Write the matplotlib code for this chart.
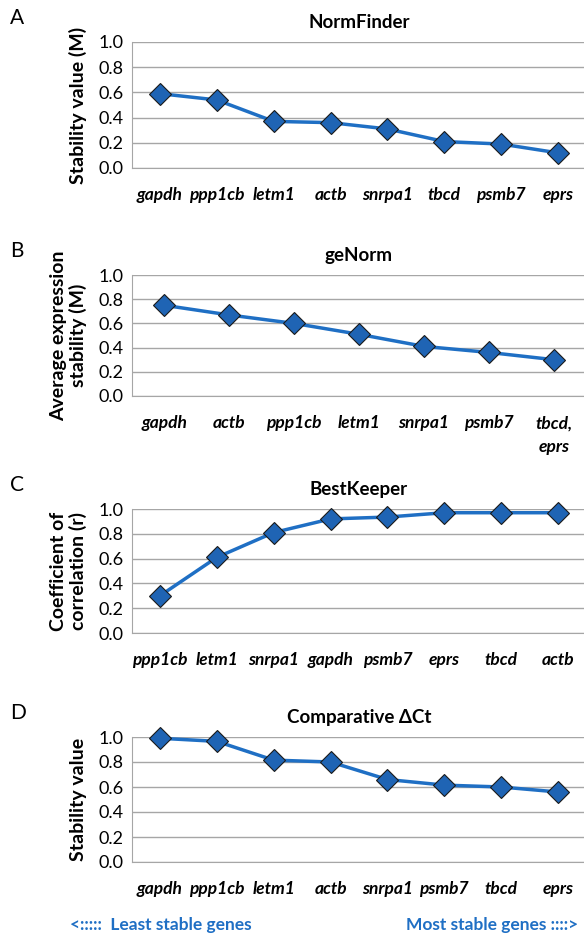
import matplotlib
matplotlib.use("Agg")
import matplotlib.pyplot as plt

plt.rcParams['font.family'] = ['Lato', 'DejaVu Sans']

# データ
genes_a = ["gapdh", "ppp1cb", "letm1", "actb", "snrpa1", "tbcd", "psmb7", "eprs"]
vals_a = [0.59, 0.54, 0.37, 0.36, 0.31, 0.21, 0.19, 0.12]

genes_b = ["gapdh", "actb", "ppp1cb", "letm1", "snrpa1", "psmb7", "tbcd,\neprs"]
vals_b = [0.75, 0.67, 0.60, 0.51, 0.41, 0.36, 0.30]

genes_c = ["ppp1cb", "letm1", "snrpa1", "gapdh", "psmb7", "eprs", "tbcd", "actb"]
vals_c = [0.30, 0.61, 0.81, 0.92, 0.935, 0.97, 0.97, 0.97]

genes_d = ["gapdh", "ppp1cb", "letm1", "actb", "snrpa1", "psmb7", "tbcd", "eprs"]
vals_d = [0.99, 0.965, 0.815, 0.80, 0.66, 0.615, 0.60, 0.56]

titles = ["NormFinder", "geNorm", "BestKeeper", "Comparative ΔCt"]
ylabels = ["Stability value (M)", "Average expression\nstability (M)",
           "Coefficient of\ncorrelation (r)", "Stability value"]
letters = ["A", "B", "C", "D"]
yticks = [0.0, 0.2, 0.4, 0.6, 0.8, 1.0]

line_col = "#1f6fc4"
mark_col = "#1f64b4"
grid_col = "#a6a6a6"

fig = plt.figure(figsize=(5.84, 9.34), dpi=100)

# 各パネルの位置 (top, bottom) in px
rows = [(42, 168), (275, 396), (509, 633), (737, 862)]
panels = [(genes_a, vals_a), (genes_b, vals_b), (genes_c, vals_c), (genes_d, vals_d)]

for k, ((genes, vals), (top, bot)) in enumerate(zip(panels, rows)):
    ax = fig.add_axes([131.5 / 584, 1 - bot / 934, 455 / 584, (bot - top) / 934])
    x = list(range(len(genes)))
    ax.plot(x, vals, color=line_col, lw=2.5, marker="D", ms=11,
            mfc=mark_col, mec="#1a1a1a", mew=0.8, zorder=3, clip_on=False)
    ax.set_xlim(-0.5, len(genes) - 0.5)
    ax.set_ylim(0, 1.0)
    ax.set_yticks(yticks)
    ax.set_yticklabels(["%.1f" % v for v in yticks], fontsize=13)
    ax.yaxis.grid(True, color=grid_col, lw=1)
    ax.set_axisbelow(True)
    ax.set_xticks(x)
    ax.set_xticklabels(genes, fontsize=12.5, fontweight="bold", style="italic",
                       va="top", linespacing=1.6)
    ax.tick_params(axis="both", length=0)
    ax.tick_params(axis="x", pad=14)
    ax.tick_params(axis="y", pad=6)
    for s in ["top", "right"]:
        ax.spines[s].set_visible(False)
    for s in ["left", "bottom"]:
        ax.spines[s].set_color(grid_col)
    ax.set_title(titles[k], fontsize=13.5, fontweight="bold", pad=10)
    ax.set_ylabel(ylabels[k], fontsize=14, fontweight="bold", labelpad=8,
                  linespacing=1.1)
    fig.text(10 / 584, 1 - (top - 24) / 934, letters[k], fontsize=15,
             va="center", ha="left")

fig.text(70 / 584, 1 - 925 / 934, "<:::::  Least stable genes", color="#1f6fc4",
         fontsize=12.5, fontweight="bold", va="center", ha="left")
fig.text(578 / 584, 1 - 925 / 934, "Most stable genes ::::>", color="#1f6fc4",
         fontsize=12.5, fontweight="bold", va="center", ha="right")

fig.savefig("out.png", dpi=100)
